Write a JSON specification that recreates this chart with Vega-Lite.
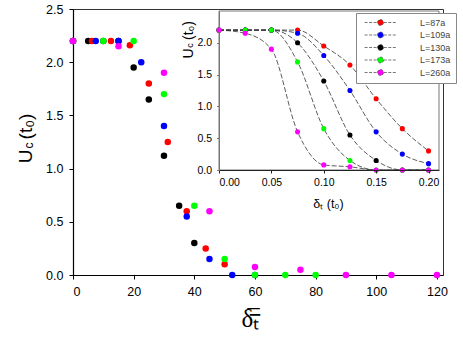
{
  "$schema": "https://vega.github.io/schema/vega-lite/v6.json",
  "width": 370,
  "height": 266,
  "autosize": {"type": "none"},
  "padding": {"left": 73, "top": 9, "right": 20, "bottom": 79},
  "config": {
    "font": "Liberation Sans",
    "view": {"stroke": "#333", "strokeWidth": 1},
    "axis": {"grid": false, "labelColor": "#000", "titleColor": "#000", "titleFontWeight": "normal"}
  },
  "datasets": {
    "main": [
      {"L": "L=87a", "d": 0, "u": 2.2}, {"L": "L=87a", "d": 5, "u": 2.2}, {"L": "L=87a", "d": 10, "u": 2.2},
      {"L": "L=87a", "d": 15, "u": 2.2}, {"L": "L=87a", "d": 20, "u": 1.95}, {"L": "L=87a", "d": 25, "u": 1.65},
      {"L": "L=87a", "d": 30, "u": 1.12}, {"L": "L=87a", "d": 35, "u": 0.65}, {"L": "L=87a", "d": 40, "u": 0.3},
      {"L": "L=109a", "d": 0, "u": 2.2}, {"L": "L=109a", "d": 6.25, "u": 2.2}, {"L": "L=109a", "d": 12.5, "u": 2.2},
      {"L": "L=109a", "d": 18.75, "u": 2.16}, {"L": "L=109a", "d": 25, "u": 1.8}, {"L": "L=109a", "d": 31.25, "u": 1.25},
      {"L": "L=109a", "d": 37.5, "u": 0.6}, {"L": "L=109a", "d": 43.75, "u": 0.25}, {"L": "L=109a", "d": 50, "u": 0.1},
      {"L": "L=130a", "d": 0, "u": 2.2}, {"L": "L=130a", "d": 7.5, "u": 2.2}, {"L": "L=130a", "d": 15, "u": 2.2},
      {"L": "L=130a", "d": 22.5, "u": 2.0}, {"L": "L=130a", "d": 30, "u": 1.4}, {"L": "L=130a", "d": 37.5, "u": 0.55},
      {"L": "L=130a", "d": 45, "u": 0.15}, {"L": "L=130a", "d": 52.5, "u": 0}, {"L": "L=130a", "d": 60, "u": 0},
      {"L": "L=173a", "d": 0, "u": 2.2}, {"L": "L=173a", "d": 10, "u": 2.2}, {"L": "L=173a", "d": 20, "u": 2.2},
      {"L": "L=173a", "d": 30, "u": 1.7}, {"L": "L=173a", "d": 40, "u": 0.65}, {"L": "L=173a", "d": 50, "u": 0.15},
      {"L": "L=173a", "d": 60, "u": 0}, {"L": "L=173a", "d": 70, "u": 0}, {"L": "L=173a", "d": 80, "u": 0},
      {"L": "L=260a", "d": 0, "u": 2.2}, {"L": "L=260a", "d": 15, "u": 2.15}, {"L": "L=260a", "d": 30, "u": 1.9},
      {"L": "L=260a", "d": 45, "u": 0.6}, {"L": "L=260a", "d": 60, "u": 0.075}, {"L": "L=260a", "d": 75, "u": 0.05},
      {"L": "L=260a", "d": 90, "u": 0}, {"L": "L=260a", "d": 105, "u": 0}, {"L": "L=260a", "d": 120, "u": 0}
    ],
    "inset": [
      {"L": "L=87a", "dt": 0, "u": 2.2}, {"L": "L=87a", "dt": 0.025, "u": 2.2}, {"L": "L=87a", "dt": 0.05, "u": 2.2},
      {"L": "L=87a", "dt": 0.075, "u": 2.2}, {"L": "L=87a", "dt": 0.1, "u": 1.95}, {"L": "L=87a", "dt": 0.125, "u": 1.65},
      {"L": "L=87a", "dt": 0.15, "u": 1.12}, {"L": "L=87a", "dt": 0.175, "u": 0.65}, {"L": "L=87a", "dt": 0.2, "u": 0.3},
      {"L": "L=109a", "dt": 0, "u": 2.2}, {"L": "L=109a", "dt": 0.025, "u": 2.2}, {"L": "L=109a", "dt": 0.05, "u": 2.2},
      {"L": "L=109a", "dt": 0.075, "u": 2.15}, {"L": "L=109a", "dt": 0.1, "u": 1.8}, {"L": "L=109a", "dt": 0.125, "u": 1.25},
      {"L": "L=109a", "dt": 0.15, "u": 0.6}, {"L": "L=109a", "dt": 0.175, "u": 0.25}, {"L": "L=109a", "dt": 0.2, "u": 0.1},
      {"L": "L=130a", "dt": 0, "u": 2.2}, {"L": "L=130a", "dt": 0.025, "u": 2.2}, {"L": "L=130a", "dt": 0.05, "u": 2.2},
      {"L": "L=130a", "dt": 0.075, "u": 2.0}, {"L": "L=130a", "dt": 0.1, "u": 1.4}, {"L": "L=130a", "dt": 0.125, "u": 0.55},
      {"L": "L=130a", "dt": 0.15, "u": 0.15}, {"L": "L=130a", "dt": 0.175, "u": 0}, {"L": "L=130a", "dt": 0.2, "u": 0},
      {"L": "L=173a", "dt": 0, "u": 2.2}, {"L": "L=173a", "dt": 0.025, "u": 2.2}, {"L": "L=173a", "dt": 0.05, "u": 2.2},
      {"L": "L=173a", "dt": 0.075, "u": 1.7}, {"L": "L=173a", "dt": 0.1, "u": 0.65}, {"L": "L=173a", "dt": 0.125, "u": 0.15},
      {"L": "L=173a", "dt": 0.15, "u": 0}, {"L": "L=173a", "dt": 0.175, "u": 0}, {"L": "L=173a", "dt": 0.2, "u": 0},
      {"L": "L=260a", "dt": 0, "u": 2.2}, {"L": "L=260a", "dt": 0.025, "u": 2.15}, {"L": "L=260a", "dt": 0.05, "u": 1.9},
      {"L": "L=260a", "dt": 0.075, "u": 0.6}, {"L": "L=260a", "dt": 0.1, "u": 0.08}, {"L": "L=260a", "dt": 0.125, "u": 0.05},
      {"L": "L=260a", "dt": 0.15, "u": 0}, {"L": "L=260a", "dt": 0.175, "u": 0}, {"L": "L=260a", "dt": 0.2, "u": 0}
    ]
  },
  "layer": [
    {
      "layer": [
        {
          "data": {"name": "main"},
          "mark": {"type": "circle", "size": 42, "opacity": 1},
          "encoding": {
            "x": {
              "field": "d", "type": "quantitative",
              "scale": {"domain": [0, 122], "nice": false, "zero": false},
              "axis": {
                "orient": "bottom", "values": [0, 20, 40, 60, 80, 100, 120],
                "labelFontSize": 12.5, "tickSize": 4, "labelPadding": 6,
                "domainColor": "#000", "tickColor": "#000", "domainWidth": 1.2,
                "title": "δ̅ₜ̅", "titleFont": "Liberation Serif", "titleFontSize": 25,
                "titleX": 177, "titleY": 43, "titleBaseline": "middle", "titleAlign": "center"
              }
            },
            "y": {
              "field": "u", "type": "quantitative",
              "scale": {"domain": [0, 2.5], "nice": false},
              "axis": {
                "orient": "left", "values": [0, 0.5, 1, 1.5, 2, 2.5], "format": ".1f",
                "labelFontSize": 12.5, "tickSize": 4, "labelPadding": 6,
                "domainColor": "#000", "tickColor": "#000", "domainWidth": 1.2,
                "title": "U", "titleFontSize": 19,
                "titleX": -42, "titleY": 147, "titleBaseline": "alphabetic", "titleAlign": "center", "titleAngle": 270
              }
            },
            "color": {
              "field": "L", "type": "nominal",
              "scale": {"domain": ["L=87a", "L=109a", "L=130a", "L=173a", "L=260a"], "range": ["#000000", "#ff0000", "#0000ff", "#00ff00", "#ff00ff"]},
              "legend": null
            }
          }
        },
        {
          "data": {"name": "main"},
          "mark": {"type": "circle", "size": 1, "opacity": 0},
          "encoding": {
            "y": {
              "field": "u", "type": "quantitative",
              "axis": {
                "orient": "left", "labels": false, "ticks": false, "domain": false,
                "title": "c", "titleFontSize": 12,
                "titleX": -41, "titleY": 136, "titleBaseline": "alphabetic", "titleAlign": "center", "titleAngle": 270
              }
            }
          }
        },
        {
          "data": {"name": "main"},
          "mark": {"type": "circle", "size": 1, "opacity": 0},
          "encoding": {
            "y": {
              "field": "u", "type": "quantitative",
              "axis": {
                "orient": "left", "labels": false, "ticks": false, "domain": false,
                "title": "(t₀)", "titleFontSize": 19,
                "titleX": -42, "titleY": 117, "titleBaseline": "alphabetic", "titleAlign": "center", "titleAngle": 270
              }
            }
          }
        }
      ],
      "resolve": {"axis": {"y": "independent"}}
    },
    {
      "layer": [
        {
          "data": {"values": [{}]},
          "mark": {"type": "rect", "fill": "#ffffff", "stroke": "#777", "strokeWidth": 1},
          "encoding": {
            "x": {"datum": 0, "type": "quantitative"},
            "x2": {"datum": 0.21},
            "y": {"datum": 0, "type": "quantitative", "axis": null},
            "y2": {"datum": 2.5}
          }
        },
        {
          "data": {"name": "inset"},
          "mark": {"type": "line", "stroke": "#333", "strokeWidth": 0.8, "strokeDash": [5, 2], "interpolate": "monotone"},
          "encoding": {
            "x": {"field": "dt", "type": "quantitative"},
            "y": {"field": "u", "type": "quantitative", "axis": null},
            "detail": {"field": "L", "type": "nominal"}
          }
        },
        {
          "data": {"name": "inset"},
          "mark": {"type": "circle", "size": 26, "opacity": 1},
          "encoding": {
            "x": {
              "field": "dt", "type": "quantitative",
              "scale": {"domain": [0, 0.21], "range": [146, 366], "nice": false, "zero": false},
              "axis": {
                "orient": "bottom", "offset": -105, "zindex": 1, "values": [0, 0.05, 0.1, 0.15, 0.2], "format": ".2f",
                "labelFontSize": 10.5, "tickSize": 3, "labelPadding": 4,
                "domainColor": "#222", "tickColor": "#222",
                "title": "δₜ (t₀)", "titleFontSize": 12.5,
                "titleX": 255, "titleY": 33, "titleBaseline": "middle", "titleAlign": "center"
              }
            },
            "y": {
              "field": "u", "type": "quantitative",
              "scale": {"domain": [0, 2.5], "range": [161, 2], "nice": false},
              "axis": {
                "orient": "left", "offset": -146, "zindex": 1, "values": [0, 0.5, 1, 1.5, 2], "format": ".1f",
                "labelFontSize": 10.5, "tickSize": 2.5, "labelPadding": 5,
                "domainColor": "#777", "tickColor": "#777",
                "title": "U", "titleFontSize": 14,
                "titleX": -27, "titleY": 44, "titleBaseline": "alphabetic", "titleAlign": "center", "titleAngle": 270
              }
            },
            "color": {
              "field": "L", "type": "nominal",
              "scale": {"domain": ["L=87a", "L=109a", "L=130a", "L=173a", "L=260a"], "range": ["#ff0000", "#0000ff", "#000000", "#00ff00", "#ff00ff"]},
              "legend": {
                "orient": "none", "legendX": 283, "legendY": 4, "title": null,
                "padding": 5, "strokeColor": "#888", "fillColor": "#ffffff",
                "symbolType": "M-5.3,0H-1.1M1.1,0H5.3M-1,0A1,1,0,1,1,1,0A1,1,0,1,1,-1,0Z",
                "symbolSize": 36, "symbolStrokeColor": "#555", "symbolStrokeWidth": 0.8, "symbolDash": [3, 1.5],
                "symbolOffset": 15, "labelOffset": 35, "labelFontSize": 9, "labelColor": "#444", "rowPadding": 1.5
              }
            }
          }
        },
        {
          "data": {"name": "inset"},
          "mark": {"type": "circle", "size": 1, "opacity": 0},
          "encoding": {
            "y": {
              "field": "u", "type": "quantitative",
              "axis": {
                "orient": "left", "offset": -146, "zindex": 1, "labels": false, "ticks": false, "domain": false,
                "title": "c", "titleFontSize": 9,
                "titleX": -27, "titleY": 36, "titleBaseline": "alphabetic", "titleAlign": "center", "titleAngle": 270
              }
            }
          }
        },
        {
          "data": {"name": "inset"},
          "mark": {"type": "circle", "size": 1, "opacity": 0},
          "encoding": {
            "y": {
              "field": "u", "type": "quantitative",
              "axis": {
                "orient": "left", "offset": -146, "zindex": 1, "labels": false, "ticks": false, "domain": false,
                "title": "(t₀)", "titleFontSize": 14,
                "titleX": -27, "titleY": 21, "titleBaseline": "alphabetic", "titleAlign": "center", "titleAngle": 270
              }
            }
          }
        }
      ],
      "resolve": {"axis": {"y": "independent"}}
    }
  ],
  "resolve": {
    "scale": {"x": "independent", "y": "independent", "color": "independent"},
    "axis": {"x": "independent", "y": "independent"},
    "legend": {"color": "independent"}
  }
}
